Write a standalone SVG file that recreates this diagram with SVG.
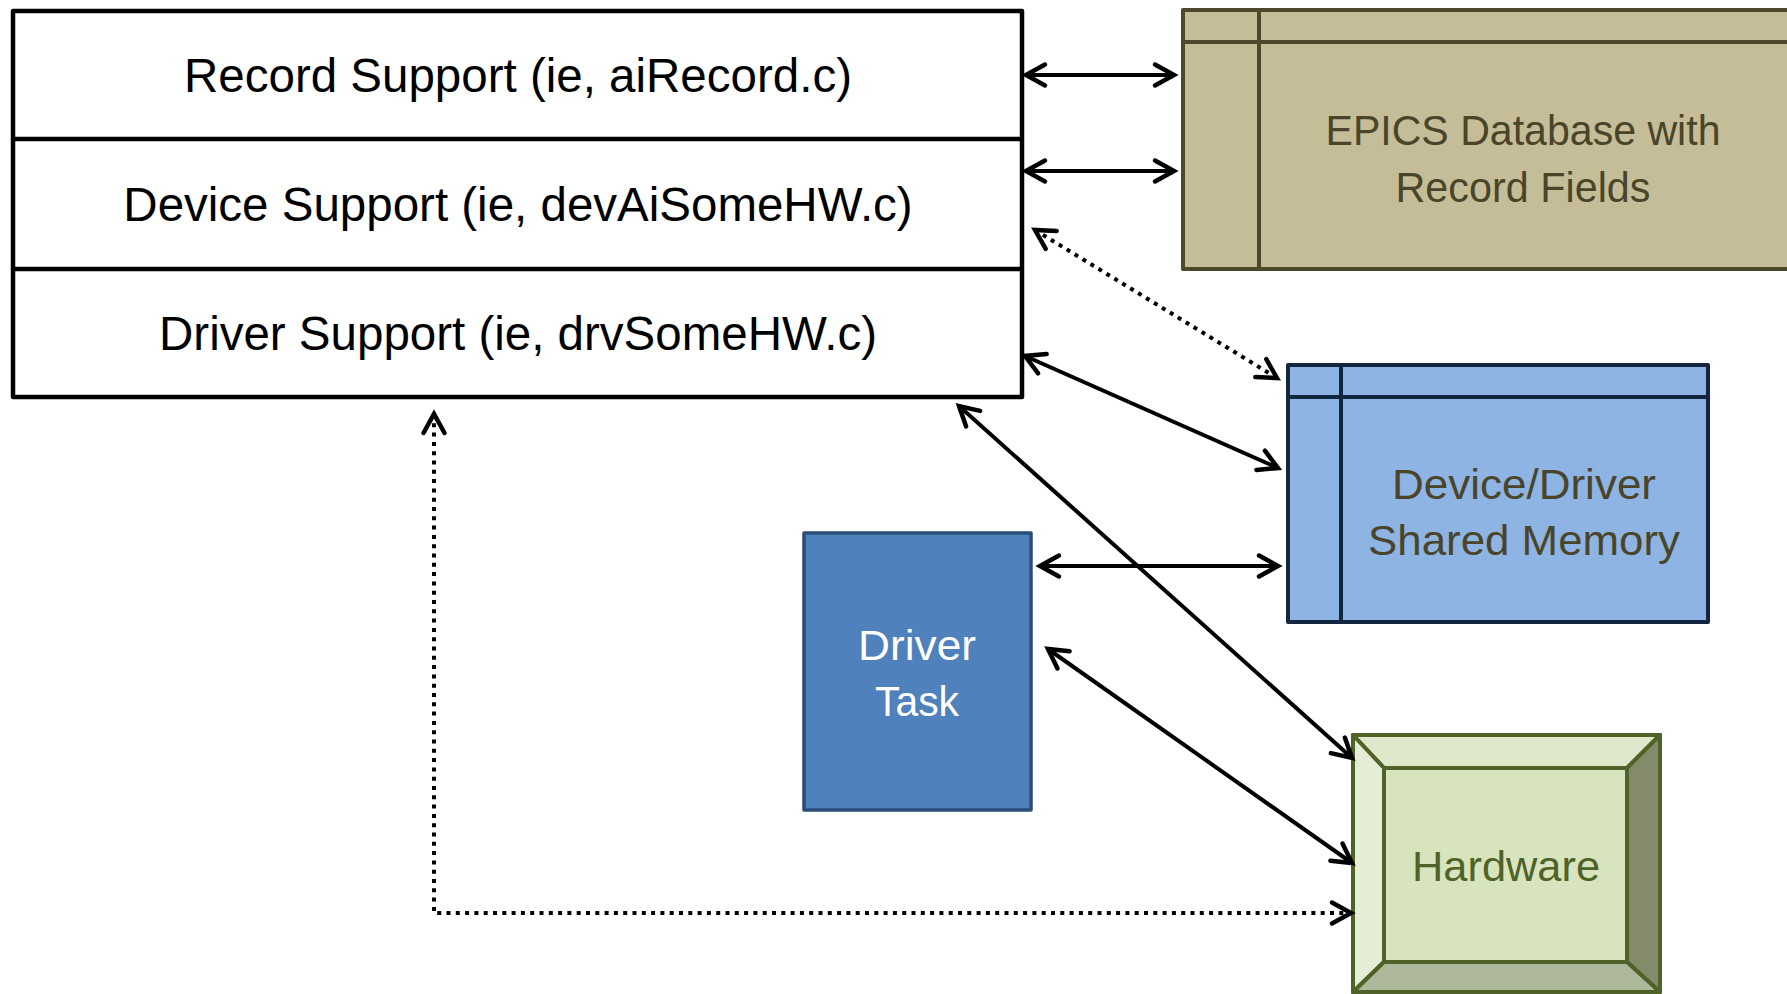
<svg xmlns="http://www.w3.org/2000/svg" width="1787" height="994" viewBox="0 0 1787 994">
<style>
text{font-family:"Liberation Sans",Arial,sans-serif;text-anchor:middle}
.main{font-size:47.5px;fill:#000}
.sec{font-size:43px}
.olive{fill:#4A452A}
.conn{fill:none;stroke:#000;stroke-width:4}
.dot{stroke-dasharray:4 5.3}
rect,polygon,line{stroke-linejoin:round}
</style>
<defs>
<marker id="ah" viewBox="-25 -15 30 30" refX="0" refY="0" markerWidth="30" markerHeight="30" markerUnits="userSpaceOnUse" orient="auto-start-reverse">
<path d="M-19,-10.5 L0,0 L-19,10.5" fill="none" stroke="#000" stroke-width="4.5" stroke-dasharray="none" stroke-linecap="round" stroke-linejoin="miter"/>
</marker>
</defs>
<rect width="1787" height="994" fill="#fff"/>

<g id="software-stack">
<rect x="13" y="11" width="1009" height="386" fill="#fff" stroke="#000" stroke-width="4.5"/>
<line x1="13" y1="139" x2="1022" y2="139" stroke="#000" stroke-width="4.5"/>
<line x1="13" y1="269" x2="1022" y2="269" stroke="#000" stroke-width="4.5"/>
<text class="main" x="518" y="92">Record Support (ie, aiRecord.c)</text>
<text class="main" x="518" y="221">Device Support (ie, devAiSomeHW.c)</text>
<text class="main" x="518" y="350">Driver Support (ie, drvSomeHW.c)</text>
</g>

<g id="epics-db">
<rect x="1183" y="10" width="620" height="259" fill="#C4BD97" stroke="#4D482C" stroke-width="4"/>
<line x1="1183" y1="42" x2="1803" y2="42" stroke="#4D482C" stroke-width="4"/>
<line x1="1259" y1="10" x2="1259" y2="269" stroke="#4D482C" stroke-width="4"/>
<text class="sec olive" x="1523" y="145" textLength="395" lengthAdjust="spacingAndGlyphs">EPICS Database with</text>
<text class="sec olive" x="1523" y="202" textLength="255" lengthAdjust="spacingAndGlyphs">Record Fields</text>
</g>

<g id="shared-memory">
<rect x="1288" y="365" width="420" height="257" fill="#8EB4E3" stroke="#12263F" stroke-width="4"/>
<line x1="1288" y1="397" x2="1708" y2="397" stroke="#12263F" stroke-width="4"/>
<line x1="1341" y1="365" x2="1341" y2="622" stroke="#12263F" stroke-width="4"/>
<text class="sec olive" x="1524" y="499" textLength="264" lengthAdjust="spacingAndGlyphs">Device/Driver</text>
<text class="sec olive" x="1524" y="555" textLength="312" lengthAdjust="spacingAndGlyphs">Shared Memory</text>
</g>

<g id="driver-task">
<rect x="804" y="533" width="227" height="277" fill="#4F81BD" stroke="#2B4D7A" stroke-width="3.5"/>
<text class="sec" x="917" y="660" fill="#fff" textLength="118" lengthAdjust="spacingAndGlyphs">Driver</text>
<text class="sec" x="917" y="716" fill="#fff" textLength="84" lengthAdjust="spacingAndGlyphs">Task</text>
</g>

<g id="hardware" stroke="#4F6228" stroke-width="4">
<polygon points="1353,735 1660,735 1627,768 1384,768" fill="#E0E8CB"/>
<polygon points="1353,735 1384,768 1384,962 1353,992" fill="#E6EDD7"/>
<polygon points="1660,735 1660,992 1627,962 1627,768" fill="#838B6A"/>
<polygon points="1353,992 1384,962 1627,962 1660,992" fill="#AEB89A"/>
<rect x="1384" y="768" width="243" height="194" fill="#D8E4BD"/>
<rect x="1353" y="735" width="307" height="257" fill="none"/>
<text class="sec" x="1506" y="881" fill="#4F6228" stroke="none" textLength="188" lengthAdjust="spacingAndGlyphs">Hardware</text>
</g>

<g id="connectors">
<line class="conn" x1="1026" y1="75" x2="1174" y2="75" marker-start="url(#ah)" marker-end="url(#ah)"/>
<line class="conn" x1="1026" y1="171" x2="1174" y2="171" marker-start="url(#ah)" marker-end="url(#ah)"/>
<line class="conn dot" x1="1035" y1="230" x2="1277" y2="378" marker-start="url(#ah)" marker-end="url(#ah)"/>
<line class="conn" x1="1025" y1="356" x2="1278" y2="468" marker-start="url(#ah)" marker-end="url(#ah)"/>
<line class="conn" x1="1040" y1="566" x2="1278" y2="566" marker-start="url(#ah)" marker-end="url(#ah)"/>
<line class="conn" x1="959" y1="406" x2="1352" y2="758" marker-start="url(#ah)" marker-end="url(#ah)"/>
<line class="conn" x1="1048" y1="649" x2="1352" y2="863" marker-start="url(#ah)" marker-end="url(#ah)"/>
<path class="conn dot" d="M434,414 L434,913 L1351,913" marker-start="url(#ah)" marker-end="url(#ah)"/>
</g>
</svg>
